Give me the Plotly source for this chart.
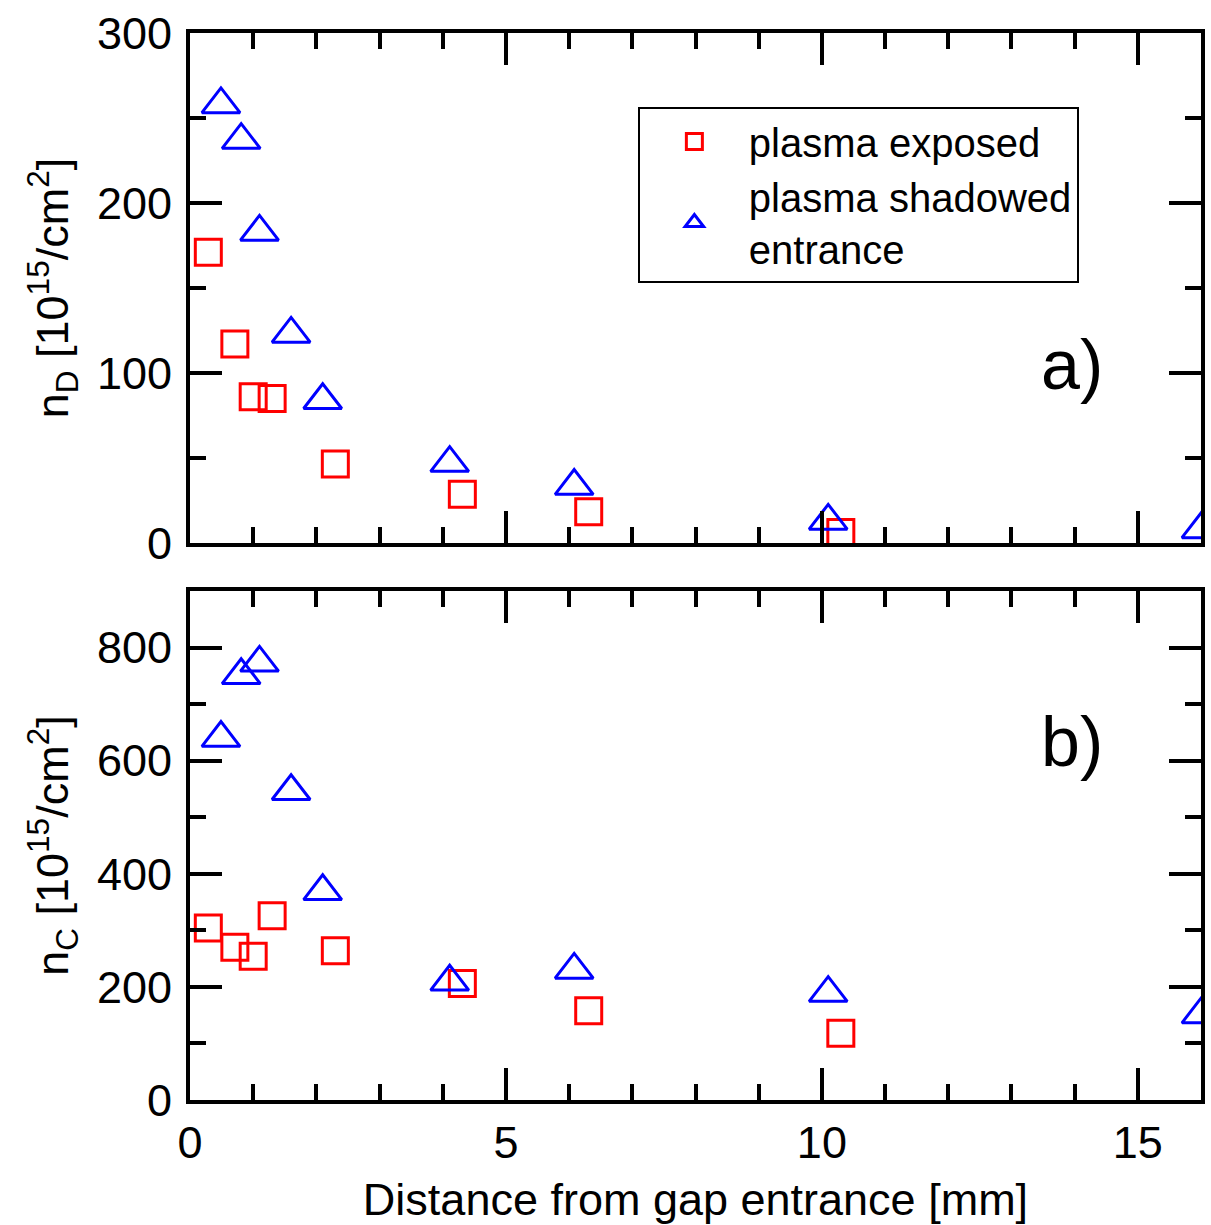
import plotly.graph_objects as go

FONT = "Liberation Sans, Arial, sans-serif"

# --- data ---
exp_x = [0.29, 0.71, 1.00, 1.30, 2.30, 4.31, 6.31, 10.30]
exp_nD = [171, 117, 86, 85, 46.5, 28.7, 18.4, 6.2]
exp_nC = [304, 270, 254, 326, 264, 206, 158, 118]

sh_x = [0.49, 0.81, 1.10, 1.60, 2.10, 4.11, 6.08, 10.10, 16.0]
sh_nD = [258, 237, 183, 123, 84, 47, 33.5, 13, 8]
sh_nC = [640, 751, 773, 546, 369, 209, 230, 189, 151]

x_ticks = [0, 5, 10, 15]
nD_ticks = [0, 100, 200, 300]
nC_ticks = [0, 200, 400, 600, 800]

RED = "#ff0000"
BLUE = "#0000ff"

sq = dict(symbol="square-open", size=26, color=RED, line=dict(width=3, color=RED))
tri = dict(symbol="triangle-up-open", size=33, color=BLUE, line=dict(width=3, color=BLUE))

fig = go.Figure()
fig.add_trace(go.Scatter(x=exp_x, y=exp_nD, mode="markers", marker=sq,
                         name="plasma exposed", xaxis="x", yaxis="y"))
fig.add_trace(go.Scatter(x=sh_x, y=sh_nD, mode="markers", marker=tri,
                         name="plasma shadowed<br>entrance", xaxis="x", yaxis="y"))
fig.add_trace(go.Scatter(x=exp_x, y=exp_nC, mode="markers", marker=sq,
                         showlegend=False, xaxis="x2", yaxis="y2"))
fig.add_trace(go.Scatter(x=sh_x, y=sh_nC, mode="markers", marker=tri,
                         showlegend=False, xaxis="x2", yaxis="y2"))

axis_common = dict(
    showline=True, linewidth=4, linecolor="black", mirror="ticks",
    ticks="inside", ticklen=32, tickwidth=4, tickcolor="black",
    showgrid=False, zeroline=False,
    tickfont=dict(family=FONT, size=45, color="black"),
)

fig.update_layout(
    width=1211, height=1225,
    margin=dict(l=190, r=6, t=33, b=125),
    paper_bgcolor="white", plot_bgcolor="white",
    font=dict(family=FONT, color="black"),
    xaxis=dict(**axis_common, domain=[0, 1], anchor="y", range=[0, 16],
               tickvals=x_ticks, showticklabels=False,
               minor=dict(ticks="inside", ticklen=16, tickwidth=4, tickcolor="black", dtick=1)),
    yaxis=dict(**axis_common, domain=[0.522, 1], anchor="x", range=[0, 300],
               tickvals=nD_ticks, ticklabelstandoff=5,
               minor=dict(ticks="inside", ticklen=16, tickwidth=4, tickcolor="black", dtick=50),
               title=dict(text="n<sub>D</sub> [10<sup>15</sup>/cm<sup>2</sup>]",
                          font=dict(family=FONT, size=45), standoff=15)),
    xaxis2=dict(**axis_common, domain=[0, 1], anchor="y2", range=[0, 16],
                tickvals=x_ticks, ticklabelstandoff=0,
                minor=dict(ticks="inside", ticklen=16, tickwidth=4, tickcolor="black", dtick=1),
                title=dict(text="Distance from gap entrance [mm]",
                           font=dict(family=FONT, size=45), standoff=18)),
    yaxis2=dict(**axis_common, domain=[0, 0.477], anchor="x2", range=[0, 900],
                tickvals=nC_ticks, ticklabelstandoff=5,
                minor=dict(ticks="inside", ticklen=16, tickwidth=4, tickcolor="black", dtick=100),
                title=dict(text="n<sub>C</sub> [10<sup>15</sup>/cm<sup>2</sup>]",
                           font=dict(family=FONT, size=45), standoff=15)),
    legend=dict(x=0.443, y=0.9306, xanchor="left", yanchor="top",
                bgcolor="white", bordercolor="black", borderwidth=2,
                font=dict(family=FONT, size=40, color="black"),
                itemwidth=99, tracegroupgap=0),
    showlegend=True,
    annotations=[
        dict(text="a)", x=0.872, y=0.349, xref="x domain", yref="y domain",
             xanchor="center", yanchor="middle",
             showarrow=False, font=dict(family=FONT, size=70, color="black")),
        dict(text="b)", x=0.872, y=0.703, xref="x2 domain", yref="y2 domain",
             xanchor="center", yanchor="middle",
             showarrow=False, font=dict(family=FONT, size=70, color="black")),
    ],
)

fig.write_html("out.html")
